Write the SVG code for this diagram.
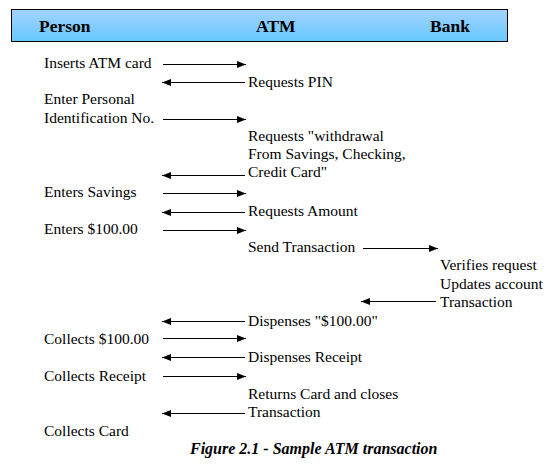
<svg xmlns="http://www.w3.org/2000/svg" width="552" height="466" viewBox="0 0 552 466">
<defs>
<linearGradient id="hdr" x1="0" y1="0" x2="0" y2="1">
<stop offset="0" stop-color="#a3d3ff"/>
<stop offset="1" stop-color="#66c8ff"/>
</linearGradient>
<marker id="ah" markerUnits="userSpaceOnUse" markerWidth="10" markerHeight="8" refX="9" refY="3.5" orient="auto">
<path d="M0,0 L9,3.5 L0,7 Z" fill="#000"/>
</marker>
</defs>
<style>
.t{font-family:"Liberation Serif","Times New Roman",serif;font-size:15.5px;fill:#000}
.h{font-family:"Liberation Serif","Times New Roman",serif;font-size:17.5px;font-weight:bold;fill:#000}
.c{font-family:"Liberation Serif","Times New Roman",serif;font-size:16px;font-weight:bold;font-style:italic;fill:#000}
.a{stroke:#000;stroke-width:1;fill:none;marker-end:url(#ah)}
</style>
<rect width="552" height="466" fill="#fff"/>
<g id="header">
<rect x="11.5" y="9.5" width="496" height="32" fill="url(#hdr)" stroke="#000" stroke-width="1"/>
<text class="h" x="39" y="32">Person</text>
<text class="h" x="256" y="32">ATM</text>
<text class="h" x="430" y="32">Bank</text>
</g>
<g id="person">
<text class="t" x="44" y="68">Inserts ATM card</text>
<text class="t" x="44" y="104">Enter Personal</text>
<text class="t" x="44" y="122.5">Identification No.</text>
<text class="t" x="44" y="196.5">Enters Savings</text>
<text class="t" x="44" y="233.5">Enters $100.00</text>
<text class="t" x="44" y="343.5">Collects $100.00</text>
<text class="t" x="44" y="380.5">Collects Receipt</text>
<text class="t" x="44" y="435.5">Collects Card</text>
</g>
<g id="atm">
<text class="t" x="248" y="86.5">Requests PIN</text>
<text class="t" x="248" y="141">Requests "withdrawal</text>
<text class="t" x="248" y="159">From Savings, Checking,</text>
<text class="t" x="248" y="177">Credit Card"</text>
<text class="t" x="248" y="215.5">Requests Amount</text>
<text class="t" x="248" y="252">Send Transaction</text>
<text class="t" x="248" y="325.5">Dispenses "$100.00"</text>
<text class="t" x="248" y="362">Dispenses Receipt</text>
<text class="t" x="248" y="399">Returns Card and closes</text>
<text class="t" x="248" y="417">Transaction</text>
</g>
<g id="bank">
<text class="t" x="440" y="270">Verifies request</text>
<text class="t" x="440" y="288.5">Updates account</text>
<text class="t" x="440" y="306.5">Transaction</text>
</g>
<g id="connectors">
<line class="a" x1="163" y1="64.5" x2="246" y2="64.5"/>
<line class="a" x1="245" y1="82.5" x2="162" y2="82.5"/>
<line class="a" x1="163" y1="119.5" x2="246" y2="119.5"/>
<line class="a" x1="245" y1="175.5" x2="162" y2="175.5"/>
<line class="a" x1="163" y1="193.5" x2="246" y2="193.5"/>
<line class="a" x1="245" y1="212.5" x2="162" y2="212.5"/>
<line class="a" x1="163" y1="230.5" x2="246" y2="230.5"/>
<line class="a" x1="363" y1="248.5" x2="438" y2="248.5"/>
<line class="a" x1="436" y1="301.5" x2="361" y2="301.5"/>
<line class="a" x1="245" y1="321.5" x2="162" y2="321.5"/>
<line class="a" x1="163" y1="338.5" x2="246" y2="338.5"/>
<line class="a" x1="245" y1="357.5" x2="162" y2="357.5"/>
<line class="a" x1="163" y1="376.5" x2="246" y2="376.5"/>
<line class="a" x1="245" y1="413.5" x2="162" y2="413.5"/>
</g>
<g id="caption">
<text class="c" x="190" y="454">Figure 2.1 - Sample ATM transaction</text>
</g>
</svg>
